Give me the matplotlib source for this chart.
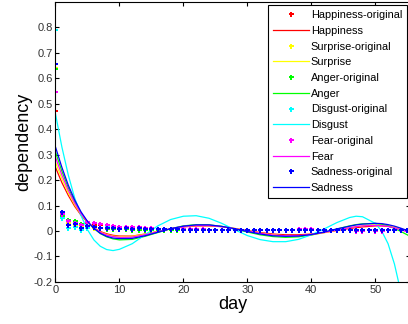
import numpy as np
import matplotlib
matplotlib.use("Agg")
import matplotlib.pyplot as plt

plt.rcParams['font.family'] = ['Liberation Sans', 'DejaVu Sans']

emotions = ["Happiness", "Surprise", "Anger", "Disgust", "Fear", "Sadness"]
colors = ["#ff0000", "#ffff00", "#00ff00", "#00ffff", "#ff00ff", "#0000ff"]

# observed daily values, day 0 .. 55
days = np.arange(56)
happiness_orig = [0.47, 0.06, 0.035, 0.03, 0.02, 0.03, 0.025, 0.022, 0.018, 0.016,
                  0.014, 0.015, 0.013, 0.012, 0.01, 0.01, 0.009, 0.008, 0.008, 0.007,
                  0.007, 0.006, 0.006, 0.006, 0.005, 0.005, 0.005, 0.005, 0.005, 0.005,
                  0.005, 0.004, 0.004, 0.004, 0.004, 0.004, 0.004, 0.004, 0.004, 0.004,
                  0.004, 0.004, 0.004, 0.004, 0.004, 0.004, 0.004, 0.004, 0.004, 0.004,
                  0.004, 0.004, 0.004, 0.004, 0.004, 0.004]
surprise_orig = [0.64, 0.055, 0.03, 0.025, 0.015, 0.015, 0.012, 0.01, 0.01, 0.008,
                 0.008, 0.007, 0.007, 0.006, 0.006, 0.006, 0.005, 0.005, 0.005, 0.005,
                 0.005, 0.005, 0.004, 0.004, 0.004, 0.004, 0.004, 0.004, 0.004, 0.004,
                 0.004, 0.004, 0.004, 0.004, 0.004, 0.004, 0.004, 0.004, 0.004, 0.004,
                 0.004, 0.004, 0.004, 0.004, 0.004, 0.004, 0.004, 0.004, 0.004, 0.004,
                 0.004, 0.004, 0.004, 0.004, 0.004, 0.004]
anger_orig = [0.635, 0.06, 0.045, 0.04, 0.028, 0.02, 0.015, 0.01, 0.008, 0.007,
              0.006, 0.006, 0.005, 0.005, 0.005, 0.005, 0.005, 0.004, 0.004, 0.004,
              0.004, 0.004, 0.004, 0.004, 0.004, 0.004, 0.004, 0.004, 0.004, 0.004,
              0.004, 0.004, 0.004, 0.004, 0.004, 0.004, 0.004, 0.004, 0.004, 0.004,
              0.004, 0.004, 0.004, 0.004, 0.004, 0.004, 0.004, 0.004, 0.004, 0.004,
              0.004, 0.004, 0.004, 0.004, 0.004, 0.004]
disgust_orig = [0.79, 0.05, 0.01, 0.015, 0.005, 0.01, 0.015, 0.012, 0.015, 0.015,
                0.012, 0.012, 0.01, 0.012, 0.01, 0.008, 0.008, 0.008, 0.007, 0.007,
                0.006, 0.006, 0.006, 0.005, 0.005, 0.005, 0.005, 0.005, 0.005, 0.005,
                0.005, 0.005, 0.005, 0.005, 0.005, 0.005, 0.005, 0.005, 0.005, 0.005,
                0.005, 0.005, 0.005, 0.005, 0.005, 0.005, 0.005, 0.005, 0.005, 0.005,
                0.005, 0.005, 0.005, 0.005, 0.005, 0.005]
fear_orig = [0.545, 0.065, 0.04, 0.033, 0.022, 0.035, 0.03, 0.028, 0.022, 0.018,
             0.015, 0.016, 0.014, 0.015, 0.012, 0.01, 0.009, 0.009, 0.008, 0.007,
             0.007, 0.006, 0.006, 0.006, 0.005, 0.005, 0.005, 0.005, 0.005, 0.005,
             0.005, 0.005, 0.005, 0.005, 0.005, 0.005, 0.005, 0.005, 0.006, 0.006,
             0.008, 0.005, 0.004, 0.003, 0.003, 0.002, 0.002, 0.001, 0.001, 0.002,
             0.001, 0.001, 0.002, 0.002, 0.002, 0.002]
sadness_orig = [0.655, 0.075, 0.025, 0.028, 0.012, 0.02, 0.015, 0.012, 0.01, 0.01,
                0.008, 0.01, 0.009, 0.012, 0.008, 0.007, 0.006, 0.007, 0.007, 0.006,
                0.005, 0.005, 0.004, 0.004, 0.004, 0.004, 0.003, 0.004, 0.003, 0.003,
                0.003, 0.003, 0.003, 0.003, 0.003, 0.003, 0.003, 0.003, 0.003, 0.003,
                0.003, 0.003, 0.003, 0.003, 0.003, 0.003, 0.003, 0.003, 0.003, 0.003,
                0.003, 0.003, 0.003, 0.003, 0.003, 0.003]

# fitted curves sampled on these days
fit_days = [0, 1, 2, 3, 4, 5, 6, 7, 8, 9, 10, 12, 14, 16, 18, 20, 22, 24, 26, 28, 30,
            32, 34, 36, 38, 40, 42, 44, 46, 47, 48, 50, 51, 52, 53, 54, 55, 56]
happiness_fit = [0.25, 0.19, 0.14, 0.097, 0.062, 0.034, 0.013, -0.002, -0.011, -0.017,
                 -0.02, -0.02, -0.012, -0.002, 0.008, 0.016, 0.02, 0.02, 0.017, 0.01,
                 0.002, -0.006, -0.012, -0.015, -0.015, -0.012, -0.006, 0.002, 0.01, 0.013,
                 0.016, 0.02, 0.02, 0.018, 0.014, 0.008, 0.0, -0.01]
surprise_fit = [0.27, 0.205, 0.15, 0.103, 0.065, 0.035, 0.012, -0.004, -0.014, -0.02,
                -0.022, -0.021, -0.013, -0.002, 0.009, 0.017, 0.022, 0.022, 0.018, 0.01,
                0.001, -0.008, -0.015, -0.019, -0.019, -0.015, -0.007, 0.003, 0.013, 0.017,
                0.021, 0.025, 0.025, 0.022, 0.016, 0.008, -0.002, -0.015]
anger_fit = [0.31, 0.235, 0.17, 0.115, 0.07, 0.035, 0.01, -0.01, -0.023, -0.031,
             -0.035, -0.033, -0.021, -0.006, 0.009, 0.02, 0.025, 0.024, 0.018, 0.008,
             -0.004, -0.015, -0.022, -0.025, -0.023, -0.016, -0.005, 0.008, 0.02, 0.025,
             0.028, 0.03, 0.027, 0.02, 0.01, -0.002, -0.015, -0.03]
disgust_fit = [0.46, 0.33, 0.22, 0.13, 0.06, 0.005, -0.035, -0.06, -0.073, -0.077,
               -0.072, -0.05, -0.015, 0.02, 0.045, 0.058, 0.06, 0.05, 0.03, 0.005,
               -0.018, -0.034, -0.042, -0.042, -0.033, -0.015, 0.008, 0.033, 0.053, 0.058,
               0.056, 0.03, 0.0, -0.05, -0.13, -0.24, -0.36, -0.5]
fear_fit = [0.29, 0.22, 0.16, 0.11, 0.068, 0.036, 0.012, -0.005, -0.016, -0.022,
            -0.025, -0.024, -0.015, -0.003, 0.009, 0.018, 0.022, 0.022, 0.017, 0.009,
            0.0, -0.009, -0.016, -0.019, -0.018, -0.014, -0.006, 0.004, 0.013, 0.017,
            0.02, 0.022, 0.021, 0.018, 0.012, 0.005, -0.004, -0.015]
sadness_fit = [0.33, 0.25, 0.18, 0.122, 0.075, 0.038, 0.011, -0.009, -0.021, -0.028,
               -0.03, -0.029, -0.019, -0.005, 0.009, 0.019, 0.024, 0.024, 0.018, 0.009,
               -0.002, -0.012, -0.019, -0.021, -0.02, -0.014, -0.004, 0.008, 0.019, 0.024,
               0.027, 0.03, 0.029, 0.025, 0.019, 0.011, 0.002, -0.008]

originals = [happiness_orig, surprise_orig, anger_orig, disgust_orig, fear_orig, sadness_orig]
fits = [happiness_fit, surprise_fit, anger_fit, disgust_fit, fear_fit, sadness_fit]

fig = plt.figure(figsize=(4.08, 3.24), dpi=100)
ax = fig.add_axes([0.136, 0.13, 0.87, 0.864])

for name, col, orig, fit in zip(emotions, colors, originals, fits):
    ax.plot(days, orig, linestyle='none', marker='P', markersize=3.6,
            markeredgewidth=0, color=col, label=name + '-original')
    ax.plot(fit_days, fit, color=col, linewidth=0.9, label=name)

ax.set_xlim(0, 55.5)
ax.set_ylim(-0.2, 0.9)
ax.set_xticks([0, 10, 20, 30, 40, 50])
ax.set_yticks([-0.2, -0.1, 0, 0.1, 0.2, 0.3, 0.4, 0.5, 0.6, 0.7, 0.8])
ax.set_yticklabels(['-0.2', '-0.1', '0', '0.1', '0.2', '0.3', '0.4', '0.5', '0.6', '0.7', '0.8'])
ax.tick_params(direction='in', top=True, right=True, length=3, labelsize=8,
               labelcolor='#333333', pad=2)
ax.set_xlabel('day', fontsize=13, labelpad=1)
ax.set_ylabel('dependency', fontsize=13, labelpad=1)

leg = ax.legend(loc='upper right', fontsize=7.9, handlelength=3.3, labelspacing=0.52,
                borderaxespad=0.3, fancybox=False, framealpha=1, edgecolor='black',
                handletextpad=0.15, borderpad=0.45)
leg.get_frame().set_linewidth(0.8)

fig.savefig('out.png', dpi=100)
